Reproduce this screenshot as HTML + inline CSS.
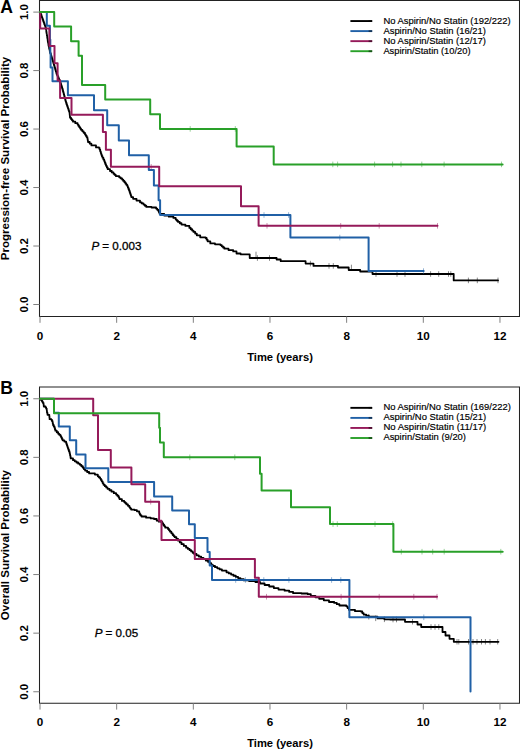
<!DOCTYPE html>
<html><head><meta charset="utf-8"><title>Kaplan-Meier curves</title>
<style>
html,body{margin:0;padding:0;background:#fff;}
svg{display:block;}
text{font-family:"Liberation Sans",sans-serif;fill:#000;}
.tl{font-size:11.7px;font-weight:bold;}
.yl{font-size:11.5px;font-weight:bold;}
.ax2{font-size:11.2px;font-weight:bold;}
.ax{font-size:11.55px;font-weight:bold;}
.pl{font-size:17.6px;font-weight:bold;}
.pv{font-size:11.6px;stroke:#000;stroke-width:0.3px;}
.lg{font-size:9.8px;stroke:#000;stroke-width:0.18px;}
</style></head>
<body>
<svg width="520" height="750" viewBox="0 0 520 750">
<rect width="520" height="750" fill="#fff"/>
<path d="M39.5,0.5H519.5V316.5H39.5Z" fill="none" stroke="#222" stroke-width="1.05"/>
<path d="M33.3,304.50H39.5M33.3,246.02H39.5M33.3,187.54H39.5M33.3,129.06H39.5M33.3,70.58H39.5M33.3,12.10H39.5M40.00,316.5V322.8M116.66,316.5V322.8M193.32,316.5V322.8M269.98,316.5V322.8M346.64,316.5V322.8M423.30,316.5V322.8M499.96,316.5V322.8" stroke="#808080" stroke-width="1" fill="none"/>
<text transform="translate(28.3,304.50) rotate(-90)" text-anchor="middle" class="yl">0.0</text>
<text transform="translate(28.3,246.02) rotate(-90)" text-anchor="middle" class="yl">0.2</text>
<text transform="translate(28.3,187.54) rotate(-90)" text-anchor="middle" class="yl">0.4</text>
<text transform="translate(28.3,129.06) rotate(-90)" text-anchor="middle" class="yl">0.6</text>
<text transform="translate(28.3,70.58) rotate(-90)" text-anchor="middle" class="yl">0.8</text>
<text transform="translate(28.3,12.10) rotate(-90)" text-anchor="middle" class="yl">1.0</text>
<text x="40.00" y="339.7" text-anchor="middle" class="tl">0</text>
<text x="116.66" y="339.7" text-anchor="middle" class="tl">2</text>
<text x="193.32" y="339.7" text-anchor="middle" class="tl">4</text>
<text x="269.98" y="339.7" text-anchor="middle" class="tl">6</text>
<text x="346.64" y="339.7" text-anchor="middle" class="tl">8</text>
<text x="423.30" y="339.7" text-anchor="middle" class="tl">10</text>
<text x="499.96" y="339.7" text-anchor="middle" class="tl">12</text>
<text x="280" y="361.1" text-anchor="middle" class="ax2">Time (years)</text>
<text transform="translate(8.6,158.50) rotate(-90)" text-anchor="middle" class="ax">Progression-free Survival Probability</text>
<text x="0.3" y="13.0" class="pl">A</text>
<text x="116.4" y="249.5" text-anchor="middle" class="pv"><tspan font-style="italic">P</tspan> = 0.003</text>
<path d="M350.4,21.05H372.2" stroke="#000000" stroke-width="1.9"/>
<path d="M368.6,21.05H372.2" stroke="#000" stroke-width="1.9" opacity="0.45"/>
<text x="383.4" y="23.50" class="lg" textLength="127.2" lengthAdjust="spacingAndGlyphs">No Aspirin/No Statin (192/222)</text>
<path d="M350.4,31.10H372.2" stroke="#2060a6" stroke-width="1.9"/>
<path d="M368.6,31.10H372.2" stroke="#000" stroke-width="1.9" opacity="0.45"/>
<text x="383.4" y="33.55" class="lg" textLength="102.6" lengthAdjust="spacingAndGlyphs">Aspirin/No Statin (16/21)</text>
<path d="M350.4,41.15H372.2" stroke="#951a5a" stroke-width="1.9"/>
<path d="M368.6,41.15H372.2" stroke="#000" stroke-width="1.9" opacity="0.45"/>
<text x="383.4" y="43.60" class="lg" textLength="102.6" lengthAdjust="spacingAndGlyphs">No Aspirin/Statin (12/17)</text>
<path d="M350.4,51.20H372.2" stroke="#29a029" stroke-width="1.9"/>
<path d="M368.6,51.20H372.2" stroke="#000" stroke-width="1.9" opacity="0.45"/>
<text x="383.4" y="53.65" class="lg" textLength="87.2" lengthAdjust="spacingAndGlyphs">Aspirin/Statin (10/20)</text>
<path d="M40.0,12.1H40.47V13.42H40.93V14.73H41.40V16.05H41.87V17.37H42.33V18.68H42.80V20.00H43.30V21.40H43.80V22.80H44.30V24.20H44.80V25.60H45.30V27.00H45.80V28.40H46.02V29.82H46.24V31.24H46.45V32.65H46.67V34.07H46.89V35.49H47.11V36.91H47.33V38.33H47.55V39.75H47.76V41.16H47.98V42.58H48.20V44.00H48.50V45.40H48.80V46.80H49.10V48.20H49.40V49.60H49.70V51.00H50.00V52.40H50.43V53.77H50.86V55.14H51.29V56.51H51.71V57.89H52.14V59.26H52.57V60.63H53.00V62.00H53.40V63.33H53.80V64.67H54.20V66.00H54.60V67.33H55.00V68.67H55.40V70.00H55.80V71.33H56.20V72.67H56.60V74.00H57.20V75.40H57.80V76.80H58.40V78.20H59.00V79.60H59.60V81.00H60.20V82.40H60.68V83.92H61.16V85.44H61.64V86.96H62.12V88.48H62.60V90.00H62.98V91.41H63.36V92.82H63.73V94.23H64.11V95.64H64.49V97.06H64.87V98.47H65.24V99.88H65.62V101.29H66.00V102.70H66.50V104.17H67.00V105.64H67.50V107.11H68.00V108.59H68.50V110.06H69.00V111.53H69.50V113.00H69.67V114.57H69.83V116.13H70.00V117.70H71.00V119.03H72.00V120.37H73.00V121.70H75.30V123.15H77.60V124.60H78.45V125.90H79.30V127.20H80.15V128.50H81.00V129.80H82.33V131.33H83.67V132.87H85.00V134.40H85.80V135.73H86.60V137.07H87.40V138.40H87.60V139.60H87.80V140.80H88.00V142.00H89.70V143.70H91.40V145.40H96.00V147.40H99.00V147.90H99.60V149.60H100.20V151.30H100.75V153.05H101.30V154.80H101.90V156.25H102.50V157.70H103.35V159.40H104.20V161.10H104.80V162.67H105.40V164.23H106.00V165.80H106.85V167.50H107.70V169.20H110.00V171.00H111.75V172.40H113.50V173.80H114.65V174.95H115.80V176.10H119.20V177.30H120.65V178.45H122.10V179.60H123.25V180.90H124.40V182.20H125.37V183.50H126.33V184.80H127.30V186.10H127.88V187.55H128.45V189.00H129.03V190.45H129.60V191.90H130.03V193.20H130.45V194.50H130.88V195.80H131.30V197.10H133.10V198.80H136.50V200.60H140.00V202.30H141.75V203.45H143.50V204.60H144.90V205.75H146.30V206.90H151.50V207.50H156.10V208.60H157.25V209.80H158.40V211.00H159.00V212.40H159.60V213.80H164.20V215.60H168.80V216.70H173.40V217.90H175.70V219.60H176.85V220.75H178.00V221.90H179.75V223.25H181.50V224.60H185.40V225.90H189.40V227.90H190.77V229.23H192.13V230.57H193.50V231.90H195.15V233.60H196.80V235.30H200.20V237.30H205.60V238.00H206.60V239.65H207.60V241.30H210.30V243.40H215.00V244.30H220.40V245.10H221.73V246.30H223.07V247.50H224.40V248.70H228.50V250.10H233.20V251.40H236.50V253.50H240.60V254.30H249.70V254.50H249.7V258.0H276.6V259.5H280.7V261.2H305.6V263.6H313.5V265.9H338.0V267.5H348.7V270.0H360.2V271.5H372.5V274.0H453.7V280.4H498" fill="none" stroke="#000000" stroke-width="1.8" stroke-linejoin="round" stroke-linecap="round"/>
<path d="M256.0,251.7V257.3M257.4,255.2V260.8M269.5,255.2V260.8M310.4,260.8V266.4M329.0,263.1V268.7M333.3,263.1V268.7M351.4,264.7V270.3M376.0,271.2V276.8M397.0,271.2V276.8M405.0,271.2V276.8M430.6,271.2V276.8M438.7,271.2V276.8M448.5,271.2V276.8M450.8,271.2V276.8M468.4,277.6V283.2M477.3,277.6V283.2M498.0,277.6V283.2" fill="none" stroke="#000000" stroke-width="0.8" opacity="0.6"/>
<path d="M40.0,12.1H46.8V25.7H49.9V39.6H50.3V53.6H50.6V67.6H52.5V81.3H67.9V95.3H94.0V110.3H107.2V125.3H118.8V140.4H129.0V155.3H148.8V170.1H153.9V185.4H158.6V200.3H160.1V215.0H290.4V237.6H368.6V271.1H423.7" fill="none" stroke="#2060a6" stroke-width="2.0" stroke-linejoin="round" stroke-linecap="round"/>
<path d="M264.0,212.2V217.8M288.6,212.2V217.8M339.8,234.8V240.4M423.5,268.3V273.9" fill="none" stroke="#2060a6" stroke-width="0.8" opacity="0.6"/>
<path d="M40.0,12.1H40.2V28.6H49.4V46.0H54.5V63.2H57.6V80.6H60.1V97.9H71.5V114.8H102.9V132.1H105.9V149.7H110.9V166.8H159.2V186.3H241.0V206.3H258.6V225.8H437.5" fill="none" stroke="#951a5a" stroke-width="2.0" stroke-linejoin="round" stroke-linecap="round"/>
<path d="M151.2,164.0V169.6M267.0,223.0V228.6M340.7,223.0V228.6M379.2,223.0V228.6M437.5,223.0V228.6" fill="none" stroke="#951a5a" stroke-width="0.8" opacity="0.6"/>
<path d="M40.0,12.1H54.2V26.6H71.1V41.2H78.6V55.8H82.0V85.0H105.2V99.6H150.2V114.2H160.0V128.9H236.6V146.5H273.7V164.4H502.6" fill="none" stroke="#29a029" stroke-width="2.0" stroke-linejoin="round" stroke-linecap="round"/>
<path d="M190.2,126.1V131.7M235.3,126.1V131.7M332.8,161.6V167.2M337.6,161.6V167.2M374.6,161.6V167.2M392.6,161.6V167.2M401.0,161.6V167.2M421.8,161.6V167.2M444.1,161.6V167.2M501.5,161.6V167.2" fill="none" stroke="#29a029" stroke-width="0.8" opacity="0.6"/>
<path d="M39.5,386.9H519.5V703.3H39.5Z" fill="none" stroke="#222" stroke-width="1.05"/>
<path d="M33.3,691.75H39.5M33.3,633.15H39.5M33.3,574.55H39.5M33.3,515.95H39.5M33.3,457.35H39.5M33.3,398.75H39.5M40.00,703.3V709.6M116.66,703.3V709.6M193.32,703.3V709.6M269.98,703.3V709.6M346.64,703.3V709.6M423.30,703.3V709.6M499.96,703.3V709.6" stroke="#808080" stroke-width="1" fill="none"/>
<text transform="translate(28.3,691.75) rotate(-90)" text-anchor="middle" class="yl">0.0</text>
<text transform="translate(28.3,633.15) rotate(-90)" text-anchor="middle" class="yl">0.2</text>
<text transform="translate(28.3,574.55) rotate(-90)" text-anchor="middle" class="yl">0.4</text>
<text transform="translate(28.3,515.95) rotate(-90)" text-anchor="middle" class="yl">0.6</text>
<text transform="translate(28.3,457.35) rotate(-90)" text-anchor="middle" class="yl">0.8</text>
<text transform="translate(28.3,398.75) rotate(-90)" text-anchor="middle" class="yl">1.0</text>
<text x="40.00" y="725.9" text-anchor="middle" class="tl">0</text>
<text x="116.66" y="725.9" text-anchor="middle" class="tl">2</text>
<text x="193.32" y="725.9" text-anchor="middle" class="tl">4</text>
<text x="269.98" y="725.9" text-anchor="middle" class="tl">6</text>
<text x="346.64" y="725.9" text-anchor="middle" class="tl">8</text>
<text x="423.30" y="725.9" text-anchor="middle" class="tl">10</text>
<text x="499.96" y="725.9" text-anchor="middle" class="tl">12</text>
<text x="280" y="747.4" text-anchor="middle" class="ax2">Time (years)</text>
<text transform="translate(8.6,545.10) rotate(-90)" text-anchor="middle" class="ax">Overall Survival Probability</text>
<text x="0.3" y="393.8" class="pl">B</text>
<text x="116.4" y="636.5" text-anchor="middle" class="pv"><tspan font-style="italic">P</tspan> = 0.05</text>
<path d="M350.4,407.85H372.2" stroke="#000000" stroke-width="1.9"/>
<path d="M368.6,407.85H372.2" stroke="#000" stroke-width="1.9" opacity="0.45"/>
<text x="383.4" y="410.30" class="lg" textLength="127.4" lengthAdjust="spacingAndGlyphs">No Aspirin/No Statin (169/222)</text>
<path d="M350.4,417.90H372.2" stroke="#2060a6" stroke-width="1.9"/>
<path d="M368.6,417.90H372.2" stroke="#000" stroke-width="1.9" opacity="0.45"/>
<text x="383.4" y="420.35" class="lg" textLength="102.8" lengthAdjust="spacingAndGlyphs">Aspirin/No Statin (15/21)</text>
<path d="M350.4,427.95H372.2" stroke="#951a5a" stroke-width="1.9"/>
<path d="M368.6,427.95H372.2" stroke="#000" stroke-width="1.9" opacity="0.45"/>
<text x="383.4" y="430.40" class="lg" textLength="102.8" lengthAdjust="spacingAndGlyphs">No Aspirin/Statin (11/17)</text>
<path d="M350.4,438.00H372.2" stroke="#29a029" stroke-width="1.9"/>
<path d="M368.6,438.00H372.2" stroke="#000" stroke-width="1.9" opacity="0.45"/>
<text x="383.4" y="440.45" class="lg" textLength="82.6" lengthAdjust="spacingAndGlyphs">Aspirin/Statin (9/20)</text>
<path d="M40.0,398.8H41.00V400.12H42.00V401.50H42.75V402.80H43.50V404.10H43.65V405.30H43.80V406.50H45.50V407.30H46.10V408.60H46.70V409.90H46.85V411.35H47.00V412.80H47.50V414.80H49.30V416.30H49.45V417.75H49.60V419.20H51.30V419.70H51.90V420.90H52.50V422.10H52.75V423.55H53.00V425.00H53.75V426.40H54.50V427.80H54.90V429.25H55.30V430.70H56.75V432.25H58.20V433.80H59.35V434.95H60.50V436.10H61.20V437.50H61.90V438.90H62.60V440.30H64.35V441.60H66.10V442.90H66.52V444.20H66.95V445.50H67.38V446.80H67.80V448.10H68.37V449.63H68.93V451.17H69.50V452.70H69.80V454.12H70.10V455.55H70.40V456.97H70.70V458.40H73.00V460.20H74.75V461.35H76.50V462.50H78.20V463.65H79.90V464.80H81.35V466.25H82.80V467.70H83.95V469.15H85.10V470.60H87.10V472.00H89.10V473.40H94.90V474.60H97.80V476.30H98.95V477.45H100.10V478.60H100.90V479.95H101.70V481.30H102.60V483.05H103.50V484.80H104.83V486.13H106.17V487.47H107.50V488.80H109.50V490.25H111.50V491.70H113.80V493.15H116.10V494.60H117.30V495.75H118.50V496.90H119.05V498.05H119.60V499.20H121.90V500.90H124.20V502.10H125.35V503.25H126.50V504.40H127.95V505.85H129.40V507.30H130.25V508.45H131.10V509.60H134.60V510.20H136.90V511.30H139.20V513.10H139.80V514.25H140.40V515.40H141.50V516.50H146.10V517.70H150.70V518.40H154.00V519.00H156.70V520.70H158.70V521.70H161.30V522.00H162.30V523.50H163.30V525.00H164.30V526.35H165.30V527.70H168.00V529.00H169.00V530.35H170.00V531.70H171.35V533.35H172.70V535.00H173.70V536.10H174.70V537.20H176.40V538.95H178.10V540.70H179.80V542.45H181.50V544.20H183.80V545.95H186.10V547.70H187.85V548.95H189.60V550.20H191.13V551.47H192.67V552.73H194.20V554.00H196.50V555.30H198.80V556.60H201.15V557.90H203.50V559.20H205.80V560.55H208.10V561.90H209.63V563.27H211.17V564.63H212.70V566.00H215.00V567.15H217.30V568.30H219.60V569.45H221.90V570.60H226.50V572.30H228.80V573.45H231.10V574.60H233.45V575.75H235.80V576.90H238.10V578.05H240.40V579.20H243.80V580.40H249.20V581.20H255.40V582.00H260.00V583.50H264.60V585.00H269.20V586.50H273.80V588.10H278.50V589.60H284.60V590.70H289.20V591.90H293.10V593.20H301.50V593.50H307.70V594.20H310.80V595.80H315.40V597.30H319.20V598.80H323.80V600.30H329.00V602.00H334.20V602.90H336.80V604.20H339.40V605.50H346.30V606.30H347.60V608.05H348.90V609.80H355.00V611.20H361.00V611.50H362.30V613.05H363.60V614.60H366.20V615.65H368.80V616.70H377.50V618.40H384.40V619.30H390.00V619.50H405.0V621.8H417.5V624.5H421.2V627.0H442.5V632.0H445.5V635.5H449.5V638.8H453.8V641.8H498.5" fill="none" stroke="#000000" stroke-width="1.8" stroke-linejoin="round" stroke-linecap="round"/>
<path d="M368.8,613.9V619.5M375.7,615.5V621.1M384.4,616.5V622.1M393.0,616.7V622.3M396.5,616.7V622.3M412.5,619.0V624.5M431.0,624.2V629.8M435.0,624.2V629.8M438.8,624.2V629.8M457.0,639.0V644.5M458.8,639.0V644.5M468.5,639.0V644.5M473.0,639.0V644.5M477.0,639.0V644.5M481.5,639.0V644.5M485.4,639.0V644.5M490.0,639.0V644.5M497.7,639.0V644.5" fill="none" stroke="#000000" stroke-width="0.8" opacity="0.6"/>
<path d="M40.0,398.8H54.0V412.7H58.8V426.6H69.8V440.3H76.2V454.4H85.5V468.3H108.3V482.1H154.1V496.4H172.2V510.6H189.0V524.3H194.8V538.0H207.5V551.9H209.7V565.5H212.0V580.0H349.4V617.3H470.5V691.5H470.5" fill="none" stroke="#2060a6" stroke-width="2.0" stroke-linejoin="round" stroke-linecap="round"/>
<path d="M235.7,577.2V582.8M245.4,577.2V582.8M263.8,577.2V582.8M288.9,577.2V582.8M331.6,577.2V582.8M340.8,577.2V582.8M423.8,614.5V620.1" fill="none" stroke="#2060a6" stroke-width="0.8" opacity="0.6"/>
<path d="M40.0,398.8H93.2V415.3H98.0V450.1H110.8V467.6H131.4V484.2H145.2V501.7H159.1V520.7H161.5V540.1H194.8V559.0H254.9V577.8H258.8V596.7H437.0" fill="none" stroke="#951a5a" stroke-width="2.0" stroke-linejoin="round" stroke-linecap="round"/>
<path d="M150.7,498.9V504.5M266.5,593.9V599.5M341.1,593.9V599.5M379.2,593.9V599.5M413.8,593.9V599.5M437.0,593.9V599.5" fill="none" stroke="#951a5a" stroke-width="0.8" opacity="0.6"/>
<path d="M40.0,398.8H54.0V413.3H159.2V427.8H160.0V442.4H163.8V457.3H260.0V473.7H261.6V490.4H291.0V507.3H330.0V524.1H393.4V551.7H502.7" fill="none" stroke="#29a029" stroke-width="2.0" stroke-linejoin="round" stroke-linecap="round"/>
<path d="M189.8,454.5V460.1M234.8,454.5V460.1M333.0,521.3V526.9M337.3,521.3V526.9M375.0,521.3V526.9M392.7,521.3V526.9M401.3,548.9V554.5M422.0,548.9V554.5M432.7,548.9V554.5M444.2,548.9V554.5M500.8,548.9V554.5" fill="none" stroke="#29a029" stroke-width="0.8" opacity="0.6"/>

</svg>
</body></html>
